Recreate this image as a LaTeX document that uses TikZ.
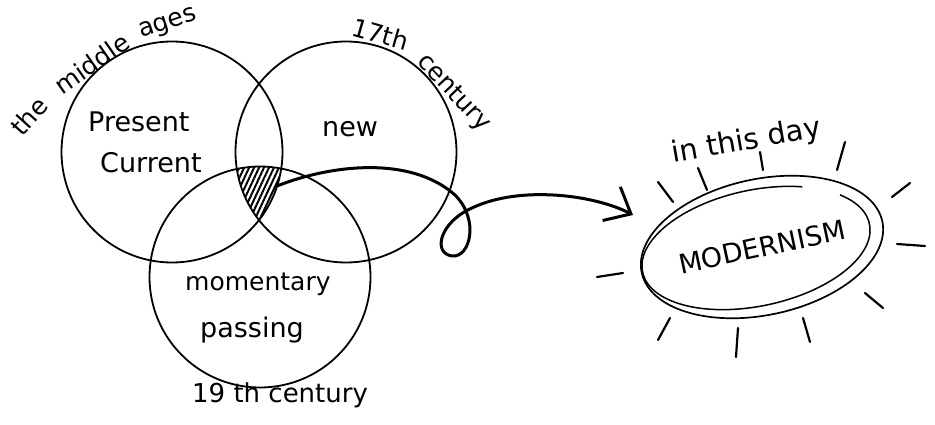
\documentclass[tikz,border=0pt]{standalone}
\usepackage{fontspec}
\setmainfont{DejaVu Sans}
\usetikzlibrary{arrows.meta}
\usetikzlibrary{patterns.meta, positioning, shapes.geometric}

\tikzset{
  ring/.style={circle, draw, line width=1.8pt, minimum size=221pt, inner sep=0pt},
  hand/.style={font=\fontsize{#1}{#1}\selectfont, inner sep=0pt},
  hand/.default=27,
  ray/.style={line width=2.2pt, line cap=round},
}

\begin{document}
\begin{tikzpicture}[x=1pt, y=-1pt, line join=round]
  \useasboundingbox (0,0) rectangle (935,425);
  % three ages as circles
  \node[ring] (c1) at (172,152) {};
  \node[ring] (c2) at (346,152) {};
  \node[ring] (c3) at (260,277) {};
  % hatched overlap of all three
  \begin{scope}
    \clip (c1.center) circle (110.5);
    \clip (c2.center) circle (110.5);
    \fill[pattern={Lines[angle=65, distance=4.5pt, line width=2pt]}] (c3.center) circle (110.5);
  \end{scope}
  % words inside the circles
  \node[hand, anchor=base west] (present) at (88,132) {Present};
  \node[hand, anchor=base west] (current) at (100,173) {Current};
  \node[hand, anchor=base west] (new) at (322,137) {new};
  \node[hand=25, anchor=base west] (momentary) at (185,290) {momentary};
  \node[hand=27, anchor=base west] (passing) at (200,337) {passing};
  \node[hand=26, anchor=base west] (c19) at (192,402) {19 th century};
  % names written round the circles
  \node[hand=25, anchor=base west, rotate=48] (the) at (22,138) {the};
  \node[hand=25, anchor=base west, rotate=35] (middle) at (62,96) {middle};
  \node[hand=25, anchor=base west, rotate=18] (ages) at (141,38) {ages};
  \node[hand=25, anchor=base west, rotate=-16] (c17) at (350,35) {17th};
  \node[hand=25, anchor=base west, rotate=-47] (century) at (416,62) {century};
  % modernism
  \node[ellipse, draw, line width=1.7pt, rotate=12, minimum width=246pt, minimum height=136pt,
        hand=27] (modern) at (762,247) {MODERNISM};
  \draw[line width=1.5pt, rotate around={12:(756,248)}]
    (756,248) ++(-36.5:116 and 58) arc[start angle=-36.5, end angle=300, x radius=116, y radius=58];
  \node[hand=29, anchor=base west, rotate=10] (today) at (673,163) {in this day};
  % rays round it
  \draw[ray] (658,182) -- (673,202) (698,168) -- (707,190) (760,152) -- (763,170)
    (845,142) -- (837,170) (910,183) -- (892,197) (897,244) -- (925,246)
    (865,293) -- (883,308) (803,318) -- (810,342) (738,328) -- (736,357)
    (670,318) -- (658,340) (597,277) -- (623,273);
  % looped arrow from the overlap
  \coordinate (from) at (277,186);
  \coordinate (tip) at (633,215);
  \draw[line width=3pt, -{Straight Barb[length=22pt, width=38pt]}] (from)
    .. controls (330,165) and (410,155) .. (455,195)
    .. controls (480,220) and (470,258) .. (452,256)
    .. controls (432,253) and (440,222) .. (472,208)
    .. controls (520,185) and (595,195) .. (tip);
\end{tikzpicture}
\end{document}
